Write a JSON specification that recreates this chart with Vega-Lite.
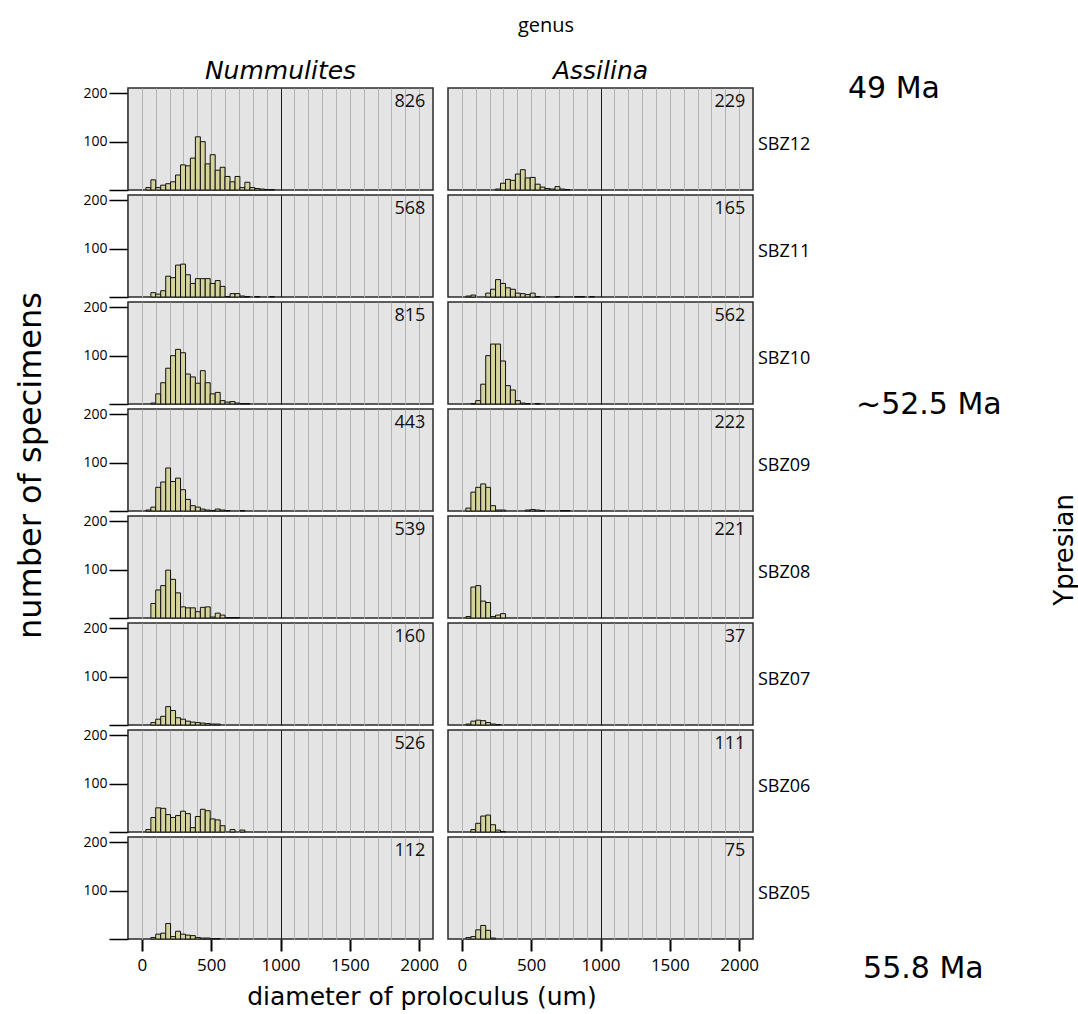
{
"$schema":"https://vega.github.io/schema/vega-lite/v6.json",
"padding":{"left":14,"top":16,"right":2,"bottom":2},
"data":{"values":[
{"g":"Nummulites","z":"SBZ12","t":"bar","a":29,"b":65,"n":5},{"g":"Nummulites","z":"SBZ12","t":"bar","a":65,"b":100,"n":21},{"g":"Nummulites","z":"SBZ12","t":"bar","a":100,"b":136,"n":5},{"g":"Nummulites","z":"SBZ12","t":"bar","a":136,"b":172,"n":10},{"g":"Nummulites","z":"SBZ12","t":"bar","a":172,"b":207,"n":13},{"g":"Nummulites","z":"SBZ12","t":"bar","a":207,"b":243,"n":17},{"g":"Nummulites","z":"SBZ12","t":"bar","a":243,"b":279,"n":31},{"g":"Nummulites","z":"SBZ12","t":"bar","a":279,"b":315,"n":52},{"g":"Nummulites","z":"SBZ12","t":"bar","a":315,"b":350,"n":50},{"g":"Nummulites","z":"SBZ12","t":"bar","a":350,"b":386,"n":66},{"g":"Nummulites","z":"SBZ12","t":"bar","a":386,"b":422,"n":110},{"g":"Nummulites","z":"SBZ12","t":"bar","a":422,"b":457,"n":100},{"g":"Nummulites","z":"SBZ12","t":"bar","a":457,"b":493,"n":54},{"g":"Nummulites","z":"SBZ12","t":"bar","a":493,"b":529,"n":73},{"g":"Nummulites","z":"SBZ12","t":"bar","a":529,"b":565,"n":41},{"g":"Nummulites","z":"SBZ12","t":"bar","a":565,"b":600,"n":47},{"g":"Nummulites","z":"SBZ12","t":"bar","a":600,"b":636,"n":28},{"g":"Nummulites","z":"SBZ12","t":"bar","a":636,"b":672,"n":17},{"g":"Nummulites","z":"SBZ12","t":"bar","a":672,"b":707,"n":28},{"g":"Nummulites","z":"SBZ12","t":"bar","a":707,"b":743,"n":5},{"g":"Nummulites","z":"SBZ12","t":"bar","a":743,"b":779,"n":16},{"g":"Nummulites","z":"SBZ12","t":"bar","a":779,"b":815,"n":5},{"g":"Nummulites","z":"SBZ12","t":"bar","a":815,"b":850,"n":3},{"g":"Nummulites","z":"SBZ12","t":"bar","a":850,"b":886,"n":2},{"g":"Nummulites","z":"SBZ12","t":"bar","a":886,"b":922,"n":1},{"g":"Nummulites","z":"SBZ12","t":"bar","a":922,"b":957,"n":1},
{"g":"Assilina","z":"SBZ12","t":"bar","a":243,"b":279,"n":2},{"g":"Assilina","z":"SBZ12","t":"bar","a":279,"b":315,"n":14},{"g":"Assilina","z":"SBZ12","t":"bar","a":315,"b":350,"n":22},{"g":"Assilina","z":"SBZ12","t":"bar","a":350,"b":386,"n":20},{"g":"Assilina","z":"SBZ12","t":"bar","a":386,"b":422,"n":33},{"g":"Assilina","z":"SBZ12","t":"bar","a":422,"b":457,"n":42},{"g":"Assilina","z":"SBZ12","t":"bar","a":457,"b":493,"n":25},{"g":"Assilina","z":"SBZ12","t":"bar","a":493,"b":529,"n":26},{"g":"Assilina","z":"SBZ12","t":"bar","a":529,"b":565,"n":12},{"g":"Assilina","z":"SBZ12","t":"bar","a":565,"b":600,"n":6},{"g":"Assilina","z":"SBZ12","t":"bar","a":600,"b":636,"n":3},{"g":"Assilina","z":"SBZ12","t":"bar","a":636,"b":672,"n":2},{"g":"Assilina","z":"SBZ12","t":"bar","a":672,"b":707,"n":7},{"g":"Assilina","z":"SBZ12","t":"bar","a":707,"b":743,"n":2},{"g":"Assilina","z":"SBZ12","t":"bar","a":743,"b":779,"n":1},
{"g":"Nummulites","z":"SBZ11","t":"bar","a":65,"b":100,"n":9},{"g":"Nummulites","z":"SBZ11","t":"bar","a":100,"b":136,"n":6},{"g":"Nummulites","z":"SBZ11","t":"bar","a":136,"b":172,"n":13},{"g":"Nummulites","z":"SBZ11","t":"bar","a":172,"b":207,"n":43},{"g":"Nummulites","z":"SBZ11","t":"bar","a":207,"b":243,"n":40},{"g":"Nummulites","z":"SBZ11","t":"bar","a":243,"b":279,"n":66},{"g":"Nummulites","z":"SBZ11","t":"bar","a":279,"b":315,"n":68},{"g":"Nummulites","z":"SBZ11","t":"bar","a":315,"b":350,"n":46},{"g":"Nummulites","z":"SBZ11","t":"bar","a":350,"b":386,"n":28},{"g":"Nummulites","z":"SBZ11","t":"bar","a":386,"b":422,"n":38},{"g":"Nummulites","z":"SBZ11","t":"bar","a":422,"b":457,"n":38},{"g":"Nummulites","z":"SBZ11","t":"bar","a":457,"b":493,"n":38},{"g":"Nummulites","z":"SBZ11","t":"bar","a":493,"b":529,"n":28},{"g":"Nummulites","z":"SBZ11","t":"bar","a":529,"b":565,"n":34},{"g":"Nummulites","z":"SBZ11","t":"bar","a":565,"b":600,"n":22},{"g":"Nummulites","z":"SBZ11","t":"bar","a":600,"b":636,"n":1},{"g":"Nummulites","z":"SBZ11","t":"bar","a":636,"b":672,"n":7},{"g":"Nummulites","z":"SBZ11","t":"bar","a":672,"b":707,"n":7},{"g":"Nummulites","z":"SBZ11","t":"bar","a":707,"b":743,"n":2},{"g":"Nummulites","z":"SBZ11","t":"bar","a":743,"b":779,"n":1},{"g":"Nummulites","z":"SBZ11","t":"bar","a":815,"b":850,"n":1},{"g":"Nummulites","z":"SBZ11","t":"bar","a":922,"b":957,"n":1},
{"g":"Assilina","z":"SBZ11","t":"bar","a":29,"b":65,"n":2},{"g":"Assilina","z":"SBZ11","t":"bar","a":65,"b":100,"n":4},{"g":"Assilina","z":"SBZ11","t":"bar","a":172,"b":207,"n":8},{"g":"Assilina","z":"SBZ11","t":"bar","a":207,"b":243,"n":16},{"g":"Assilina","z":"SBZ11","t":"bar","a":243,"b":279,"n":36},{"g":"Assilina","z":"SBZ11","t":"bar","a":279,"b":315,"n":28},{"g":"Assilina","z":"SBZ11","t":"bar","a":315,"b":350,"n":19},{"g":"Assilina","z":"SBZ11","t":"bar","a":350,"b":386,"n":16},{"g":"Assilina","z":"SBZ11","t":"bar","a":386,"b":422,"n":8},{"g":"Assilina","z":"SBZ11","t":"bar","a":422,"b":457,"n":7},{"g":"Assilina","z":"SBZ11","t":"bar","a":457,"b":493,"n":5},{"g":"Assilina","z":"SBZ11","t":"bar","a":493,"b":529,"n":8},{"g":"Assilina","z":"SBZ11","t":"bar","a":529,"b":565,"n":1},{"g":"Assilina","z":"SBZ11","t":"bar","a":672,"b":707,"n":1},{"g":"Assilina","z":"SBZ11","t":"bar","a":815,"b":850,"n":1},{"g":"Assilina","z":"SBZ11","t":"bar","a":850,"b":886,"n":1},{"g":"Assilina","z":"SBZ11","t":"bar","a":922,"b":957,"n":1},
{"g":"Nummulites","z":"SBZ10","t":"bar","a":65,"b":100,"n":2},{"g":"Nummulites","z":"SBZ10","t":"bar","a":100,"b":136,"n":21},{"g":"Nummulites","z":"SBZ10","t":"bar","a":136,"b":172,"n":44},{"g":"Nummulites","z":"SBZ10","t":"bar","a":172,"b":207,"n":74},{"g":"Nummulites","z":"SBZ10","t":"bar","a":207,"b":243,"n":100},{"g":"Nummulites","z":"SBZ10","t":"bar","a":243,"b":279,"n":113},{"g":"Nummulites","z":"SBZ10","t":"bar","a":279,"b":315,"n":106},{"g":"Nummulites","z":"SBZ10","t":"bar","a":315,"b":350,"n":62},{"g":"Nummulites","z":"SBZ10","t":"bar","a":350,"b":386,"n":56},{"g":"Nummulites","z":"SBZ10","t":"bar","a":386,"b":422,"n":43},{"g":"Nummulites","z":"SBZ10","t":"bar","a":422,"b":457,"n":69},{"g":"Nummulites","z":"SBZ10","t":"bar","a":457,"b":493,"n":44},{"g":"Nummulites","z":"SBZ10","t":"bar","a":493,"b":529,"n":21},{"g":"Nummulites","z":"SBZ10","t":"bar","a":529,"b":565,"n":24},{"g":"Nummulites","z":"SBZ10","t":"bar","a":565,"b":600,"n":7},{"g":"Nummulites","z":"SBZ10","t":"bar","a":600,"b":636,"n":4},{"g":"Nummulites","z":"SBZ10","t":"bar","a":636,"b":672,"n":5},{"g":"Nummulites","z":"SBZ10","t":"bar","a":672,"b":707,"n":2},{"g":"Nummulites","z":"SBZ10","t":"bar","a":707,"b":743,"n":1},{"g":"Nummulites","z":"SBZ10","t":"bar","a":743,"b":779,"n":1},
{"g":"Assilina","z":"SBZ10","t":"bar","a":65,"b":100,"n":1},{"g":"Assilina","z":"SBZ10","t":"bar","a":100,"b":136,"n":7},{"g":"Assilina","z":"SBZ10","t":"bar","a":136,"b":172,"n":41},{"g":"Assilina","z":"SBZ10","t":"bar","a":172,"b":207,"n":100},{"g":"Assilina","z":"SBZ10","t":"bar","a":207,"b":243,"n":124},{"g":"Assilina","z":"SBZ10","t":"bar","a":243,"b":279,"n":124},{"g":"Assilina","z":"SBZ10","t":"bar","a":279,"b":315,"n":89},{"g":"Assilina","z":"SBZ10","t":"bar","a":315,"b":350,"n":38},{"g":"Assilina","z":"SBZ10","t":"bar","a":350,"b":386,"n":29},{"g":"Assilina","z":"SBZ10","t":"bar","a":386,"b":422,"n":7},{"g":"Assilina","z":"SBZ10","t":"bar","a":422,"b":457,"n":2},{"g":"Assilina","z":"SBZ10","t":"bar","a":457,"b":493,"n":1},{"g":"Assilina","z":"SBZ10","t":"bar","a":529,"b":565,"n":1},
{"g":"Nummulites","z":"SBZ09","t":"bar","a":29,"b":65,"n":2},{"g":"Nummulites","z":"SBZ09","t":"bar","a":65,"b":100,"n":8},{"g":"Nummulites","z":"SBZ09","t":"bar","a":100,"b":136,"n":49},{"g":"Nummulites","z":"SBZ09","t":"bar","a":136,"b":172,"n":60},{"g":"Nummulites","z":"SBZ09","t":"bar","a":172,"b":207,"n":89},{"g":"Nummulites","z":"SBZ09","t":"bar","a":207,"b":243,"n":61},{"g":"Nummulites","z":"SBZ09","t":"bar","a":243,"b":279,"n":68},{"g":"Nummulites","z":"SBZ09","t":"bar","a":279,"b":315,"n":44},{"g":"Nummulites","z":"SBZ09","t":"bar","a":315,"b":350,"n":24},{"g":"Nummulites","z":"SBZ09","t":"bar","a":350,"b":386,"n":11},{"g":"Nummulites","z":"SBZ09","t":"bar","a":386,"b":422,"n":8},{"g":"Nummulites","z":"SBZ09","t":"bar","a":422,"b":457,"n":4},{"g":"Nummulites","z":"SBZ09","t":"bar","a":457,"b":493,"n":2},{"g":"Nummulites","z":"SBZ09","t":"bar","a":493,"b":529,"n":1},{"g":"Nummulites","z":"SBZ09","t":"bar","a":529,"b":565,"n":4},{"g":"Nummulites","z":"SBZ09","t":"bar","a":565,"b":600,"n":2},{"g":"Nummulites","z":"SBZ09","t":"bar","a":600,"b":636,"n":1},{"g":"Nummulites","z":"SBZ09","t":"bar","a":707,"b":743,"n":1},
{"g":"Assilina","z":"SBZ09","t":"bar","a":29,"b":65,"n":6},{"g":"Assilina","z":"SBZ09","t":"bar","a":65,"b":100,"n":39},{"g":"Assilina","z":"SBZ09","t":"bar","a":100,"b":136,"n":49},{"g":"Assilina","z":"SBZ09","t":"bar","a":136,"b":172,"n":56},{"g":"Assilina","z":"SBZ09","t":"bar","a":172,"b":207,"n":49},{"g":"Assilina","z":"SBZ09","t":"bar","a":207,"b":243,"n":11},{"g":"Assilina","z":"SBZ09","t":"bar","a":243,"b":279,"n":2},{"g":"Assilina","z":"SBZ09","t":"bar","a":279,"b":315,"n":2},{"g":"Assilina","z":"SBZ09","t":"bar","a":457,"b":493,"n":2},{"g":"Assilina","z":"SBZ09","t":"bar","a":493,"b":529,"n":3},{"g":"Assilina","z":"SBZ09","t":"bar","a":529,"b":565,"n":2},{"g":"Assilina","z":"SBZ09","t":"bar","a":565,"b":600,"n":1},{"g":"Assilina","z":"SBZ09","t":"bar","a":707,"b":743,"n":1},{"g":"Assilina","z":"SBZ09","t":"bar","a":743,"b":779,"n":1},
{"g":"Nummulites","z":"SBZ08","t":"bar","a":65,"b":100,"n":30},{"g":"Nummulites","z":"SBZ08","t":"bar","a":100,"b":136,"n":58},{"g":"Nummulites","z":"SBZ08","t":"bar","a":136,"b":172,"n":67},{"g":"Nummulites","z":"SBZ08","t":"bar","a":172,"b":207,"n":99},{"g":"Nummulites","z":"SBZ08","t":"bar","a":207,"b":243,"n":80},{"g":"Nummulites","z":"SBZ08","t":"bar","a":243,"b":279,"n":52},{"g":"Nummulites","z":"SBZ08","t":"bar","a":279,"b":315,"n":23},{"g":"Nummulites","z":"SBZ08","t":"bar","a":315,"b":350,"n":21},{"g":"Nummulites","z":"SBZ08","t":"bar","a":350,"b":386,"n":21},{"g":"Nummulites","z":"SBZ08","t":"bar","a":386,"b":422,"n":13},{"g":"Nummulites","z":"SBZ08","t":"bar","a":422,"b":457,"n":22},{"g":"Nummulites","z":"SBZ08","t":"bar","a":457,"b":493,"n":23},{"g":"Nummulites","z":"SBZ08","t":"bar","a":493,"b":529,"n":2},{"g":"Nummulites","z":"SBZ08","t":"bar","a":529,"b":565,"n":10},{"g":"Nummulites","z":"SBZ08","t":"bar","a":565,"b":600,"n":6},{"g":"Nummulites","z":"SBZ08","t":"bar","a":600,"b":636,"n":1},{"g":"Nummulites","z":"SBZ08","t":"bar","a":636,"b":672,"n":1},{"g":"Nummulites","z":"SBZ08","t":"bar","a":672,"b":707,"n":1},
{"g":"Assilina","z":"SBZ08","t":"bar","a":29,"b":65,"n":3},{"g":"Assilina","z":"SBZ08","t":"bar","a":65,"b":100,"n":64},{"g":"Assilina","z":"SBZ08","t":"bar","a":100,"b":136,"n":67},{"g":"Assilina","z":"SBZ08","t":"bar","a":136,"b":172,"n":35},{"g":"Assilina","z":"SBZ08","t":"bar","a":172,"b":207,"n":32},{"g":"Assilina","z":"SBZ08","t":"bar","a":207,"b":243,"n":3},{"g":"Assilina","z":"SBZ08","t":"bar","a":243,"b":279,"n":6},{"g":"Assilina","z":"SBZ08","t":"bar","a":279,"b":315,"n":9},
{"g":"Nummulites","z":"SBZ07","t":"bar","a":65,"b":100,"n":5},{"g":"Nummulites","z":"SBZ07","t":"bar","a":100,"b":136,"n":12},{"g":"Nummulites","z":"SBZ07","t":"bar","a":136,"b":172,"n":18},{"g":"Nummulites","z":"SBZ07","t":"bar","a":172,"b":207,"n":38},{"g":"Nummulites","z":"SBZ07","t":"bar","a":207,"b":243,"n":30},{"g":"Nummulites","z":"SBZ07","t":"bar","a":243,"b":279,"n":15},{"g":"Nummulites","z":"SBZ07","t":"bar","a":279,"b":315,"n":12},{"g":"Nummulites","z":"SBZ07","t":"bar","a":315,"b":350,"n":8},{"g":"Nummulites","z":"SBZ07","t":"bar","a":350,"b":386,"n":6},{"g":"Nummulites","z":"SBZ07","t":"bar","a":386,"b":422,"n":5},{"g":"Nummulites","z":"SBZ07","t":"bar","a":422,"b":457,"n":4},{"g":"Nummulites","z":"SBZ07","t":"bar","a":457,"b":493,"n":3},{"g":"Nummulites","z":"SBZ07","t":"bar","a":493,"b":529,"n":2},{"g":"Nummulites","z":"SBZ07","t":"bar","a":529,"b":565,"n":2},
{"g":"Assilina","z":"SBZ07","t":"bar","a":29,"b":65,"n":2},{"g":"Assilina","z":"SBZ07","t":"bar","a":65,"b":100,"n":8},{"g":"Assilina","z":"SBZ07","t":"bar","a":100,"b":136,"n":10},{"g":"Assilina","z":"SBZ07","t":"bar","a":136,"b":172,"n":9},{"g":"Assilina","z":"SBZ07","t":"bar","a":172,"b":207,"n":5},{"g":"Assilina","z":"SBZ07","t":"bar","a":207,"b":243,"n":2},{"g":"Assilina","z":"SBZ07","t":"bar","a":243,"b":279,"n":1},
{"g":"Nummulites","z":"SBZ06","t":"bar","a":29,"b":65,"n":5},{"g":"Nummulites","z":"SBZ06","t":"bar","a":65,"b":100,"n":30},{"g":"Nummulites","z":"SBZ06","t":"bar","a":100,"b":136,"n":50},{"g":"Nummulites","z":"SBZ06","t":"bar","a":136,"b":172,"n":49},{"g":"Nummulites","z":"SBZ06","t":"bar","a":172,"b":207,"n":36},{"g":"Nummulites","z":"SBZ06","t":"bar","a":207,"b":243,"n":30},{"g":"Nummulites","z":"SBZ06","t":"bar","a":243,"b":279,"n":34},{"g":"Nummulites","z":"SBZ06","t":"bar","a":279,"b":315,"n":43},{"g":"Nummulites","z":"SBZ06","t":"bar","a":315,"b":350,"n":38},{"g":"Nummulites","z":"SBZ06","t":"bar","a":350,"b":386,"n":9},{"g":"Nummulites","z":"SBZ06","t":"bar","a":386,"b":422,"n":32},{"g":"Nummulites","z":"SBZ06","t":"bar","a":422,"b":457,"n":47},{"g":"Nummulites","z":"SBZ06","t":"bar","a":457,"b":493,"n":44},{"g":"Nummulites","z":"SBZ06","t":"bar","a":493,"b":529,"n":27},{"g":"Nummulites","z":"SBZ06","t":"bar","a":529,"b":565,"n":25},{"g":"Nummulites","z":"SBZ06","t":"bar","a":565,"b":600,"n":13},{"g":"Nummulites","z":"SBZ06","t":"bar","a":636,"b":672,"n":5},{"g":"Nummulites","z":"SBZ06","t":"bar","a":707,"b":743,"n":4},
{"g":"Assilina","z":"SBZ06","t":"bar","a":65,"b":100,"n":5},{"g":"Assilina","z":"SBZ06","t":"bar","a":100,"b":136,"n":18},{"g":"Assilina","z":"SBZ06","t":"bar","a":136,"b":172,"n":33},{"g":"Assilina","z":"SBZ06","t":"bar","a":172,"b":207,"n":35},{"g":"Assilina","z":"SBZ06","t":"bar","a":207,"b":243,"n":15},{"g":"Assilina","z":"SBZ06","t":"bar","a":243,"b":279,"n":4},{"g":"Assilina","z":"SBZ06","t":"bar","a":279,"b":315,"n":1},
{"g":"Nummulites","z":"SBZ05","t":"bar","a":65,"b":100,"n":3},{"g":"Nummulites","z":"SBZ05","t":"bar","a":100,"b":136,"n":10},{"g":"Nummulites","z":"SBZ05","t":"bar","a":136,"b":172,"n":12},{"g":"Nummulites","z":"SBZ05","t":"bar","a":172,"b":207,"n":32},{"g":"Nummulites","z":"SBZ05","t":"bar","a":207,"b":243,"n":5},{"g":"Nummulites","z":"SBZ05","t":"bar","a":243,"b":279,"n":16},{"g":"Nummulites","z":"SBZ05","t":"bar","a":279,"b":315,"n":10},{"g":"Nummulites","z":"SBZ05","t":"bar","a":315,"b":350,"n":8},{"g":"Nummulites","z":"SBZ05","t":"bar","a":350,"b":386,"n":7},{"g":"Nummulites","z":"SBZ05","t":"bar","a":386,"b":422,"n":3},{"g":"Nummulites","z":"SBZ05","t":"bar","a":422,"b":457,"n":2},{"g":"Nummulites","z":"SBZ05","t":"bar","a":457,"b":493,"n":2},{"g":"Nummulites","z":"SBZ05","t":"bar","a":493,"b":529,"n":1},{"g":"Nummulites","z":"SBZ05","t":"bar","a":529,"b":565,"n":1},
{"g":"Assilina","z":"SBZ05","t":"bar","a":29,"b":65,"n":3},{"g":"Assilina","z":"SBZ05","t":"bar","a":65,"b":100,"n":5},{"g":"Assilina","z":"SBZ05","t":"bar","a":100,"b":136,"n":19},{"g":"Assilina","z":"SBZ05","t":"bar","a":136,"b":172,"n":28},{"g":"Assilina","z":"SBZ05","t":"bar","a":172,"b":207,"n":18},{"g":"Assilina","z":"SBZ05","t":"bar","a":207,"b":243,"n":2},
{"g":"Nummulites","z":"SBZ12","t":"n","n":826},{"g":"Assilina","z":"SBZ12","t":"n","n":229},
{"g":"Nummulites","z":"SBZ11","t":"n","n":568},{"g":"Assilina","z":"SBZ11","t":"n","n":165},
{"g":"Nummulites","z":"SBZ10","t":"n","n":815},{"g":"Assilina","z":"SBZ10","t":"n","n":562},
{"g":"Nummulites","z":"SBZ09","t":"n","n":443},{"g":"Assilina","z":"SBZ09","t":"n","n":222},
{"g":"Nummulites","z":"SBZ08","t":"n","n":539},{"g":"Assilina","z":"SBZ08","t":"n","n":221},
{"g":"Nummulites","z":"SBZ07","t":"n","n":160},{"g":"Assilina","z":"SBZ07","t":"n","n":37},
{"g":"Nummulites","z":"SBZ06","t":"n","n":526},{"g":"Assilina","z":"SBZ06","t":"n","n":111},
{"g":"Nummulites","z":"SBZ05","t":"n","n":112},{"g":"Assilina","z":"SBZ05","t":"n","n":75},
{"g":"Assilina","z":"SBZ12","t":"ma1","lab":"49 Ma"},
{"g":"Assilina","z":"SBZ10","t":"ma2","lab":"~52.5 Ma"},
{"g":"Assilina","z":"SBZ05","t":"ma3","lab":"55.8 Ma"},
{"g":"Assilina","z":"SBZ08","t":"yp","lab":"Ypresian"},
{"g":"Nummulites","z":"SBZ09","t":"yt","lab":"number of specimens"},
{"g":"Nummulites","z":"SBZ05","t":"xt","lab":"diameter of proloculus (um)"}
]},
"facet":{
"row":{"field":"z","type":"nominal","sort":["SBZ12","SBZ11","SBZ10","SBZ09","SBZ08","SBZ07","SBZ06","SBZ05"],"header":{"title":null,"labels":false}},
"column":{"field":"g","type":"nominal","sort":["Nummulites","Assilina"],
"header":{"title":"genus","titleFont":"Open Sans","titleFontSize":20,"titleFontWeight":"normal","titleColor":"#000","titlePadding":13,"labelFont":"DejaVu Sans","labelFontSize":25,"labelFontStyle":"italic","labelColor":"#000","labelPadding":4}}
},
"spacing":{"row":5,"column":15},
"bounds":"flush",
"spec":{
"width":305,"height":102,
"layer":[
{"transform":[{"filter":"datum.t === 'bar'"}],
"mark":{"type":"rect","fill":"#d5d39c","stroke":"#111","strokeWidth":1},
"encoding":{
"x":{"field":"a","type":"quantitative","scale":{"domain":[-100,2100],"nice":false,"zero":false},
"axis":{"title":null,"values":[0,100,200,300,400,500,600,700,800,900,1000,1100,1200,1300,1400,1500,1600,1700,1800,1900,2000],"tickCount":40,"format":"d","labelExpr":"datum.value % 500 === 0 ? datum.label : ''","labelOverlap":false,"grid":true,"gridColor":{"condition":{"test":"datum.value === 1000","value":"#1a1a1a"},"value":"#b3b3b3"},"gridWidth":1,"tickColor":"#000","tickOpacity":{"condition":{"test":"datum.value % 500 === 0","value":1},"value":0},"tickSize":12,"tickWidth":2,"domain":false,"labelFont":"Open Sans","labelFontSize":17,"labelColor":"#000","labelPadding":6}},
"x2":{"field":"b"},
"y":{"field":"n","type":"quantitative","scale":{"domain":[0,211],"nice":false},
"axis":{"title":null,"values":[0,100,200],"tickCount":5,"labelExpr":"datum.value === 0 ? '' : datum.label","grid":false,"tickSize":19,"tickWidth":1.5,"tickColor":"#000","domainColor":"#000","domainWidth":1.5,"labelFont":"Open Sans","labelFontSize":14,"labelColor":"#000","labelPadding":2}},
"y2":{"datum":0}
}},
{"transform":[{"filter":"datum.t === 'n'"}],
"mark":{"type":"text","align":"right","baseline":"middle","font":"Open Sans","fontSize":18,"color":"#111"},
"encoding":{"x":{"datum":2045},"y":{"datum":182},"text":{"field":"n","type":"quantitative"}}},
{"transform":[{"filter":"datum.t === 'n' && datum.g === 'Assilina'"}],
"mark":{"type":"text","align":"left","baseline":"middle","font":"Open Sans","fontSize":18,"color":"#000"},
"encoding":{"x":{"datum":2136},"y":{"datum":93},"text":{"field":"z"}}},
{"transform":[{"filter":"datum.t === 'ma1'"}],
"mark":{"type":"text","align":"left","baseline":"middle","font":"DejaVu Sans","fontSize":30,"color":"#000"},
"encoding":{"x":{"datum":2785},"y":{"datum":208},"text":{"field":"lab"}}},
{"transform":[{"filter":"datum.t === 'ma2'"}],
"mark":{"type":"text","align":"left","baseline":"middle","font":"DejaVu Sans","fontSize":30,"color":"#000"},
"encoding":{"x":{"datum":2843},"y":{"datum":-3},"text":{"field":"lab"}}},
{"transform":[{"filter":"datum.t === 'ma3'"}],
"mark":{"type":"text","align":"left","baseline":"middle","font":"DejaVu Sans","fontSize":30,"color":"#000"},
"encoding":{"x":{"datum":2894},"y":{"datum":-62},"text":{"field":"lab"}}},
{"transform":[{"filter":"datum.t === 'yp'"}],
"mark":{"type":"text","align":"center","baseline":"middle","angle":270,"font":"DejaVu Sans","fontSize":26,"color":"#000"},
"encoding":{"x":{"datum":4350},"y":{"datum":141},"text":{"field":"lab"}}},
{"transform":[{"filter":"datum.t === 'yt'"}],
"mark":{"type":"text","align":"center","baseline":"middle","angle":270,"font":"DejaVu Sans","fontSize":32,"color":"#000"},
"encoding":{"x":{"datum":-800},"y":{"datum":94},"text":{"field":"lab"}}},
{"transform":[{"filter":"datum.t === 'xt'"}],
"mark":{"type":"text","align":"center","baseline":"middle","font":"DejaVu Sans","fontSize":25,"color":"#000"},
"encoding":{"x":{"datum":2020},"y":{"datum":-120},"text":{"field":"lab"}}}
]},
"config":{"view":{"fill":"#e4e4e4","stroke":"#2a2a2a","strokeWidth":1.5},"background":"#ffffff"}
}
